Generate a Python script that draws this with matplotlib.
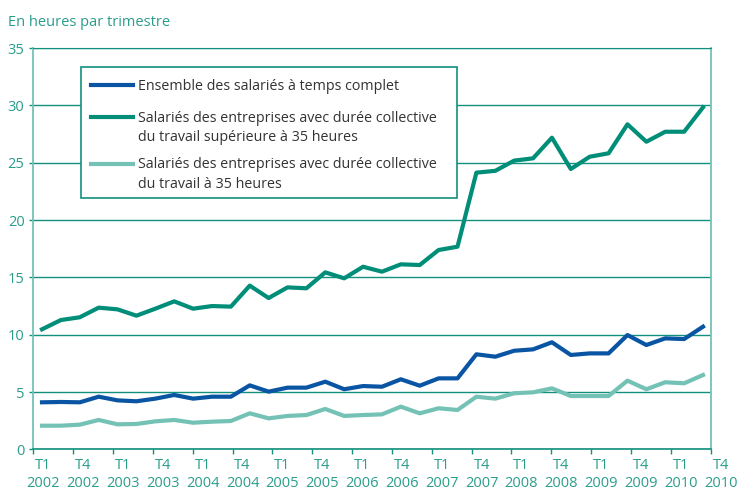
import numpy as np
import matplotlib
matplotlib.use("Agg")
import matplotlib.pyplot as plt
from matplotlib.lines import Line2D
from matplotlib.patches import Rectangle

plt.rcParams.update({"font.family": ["Open Sans", "DejaVu Sans"], "font.size": 10})

# quarterly values, T1 2002 .. T4 2010
ensemble = [4.10, 4.13, 4.10, 4.59, 4.27, 4.19, 4.42, 4.74, 4.42, 4.59, 4.59, 5.58,
            5.03, 5.38, 5.38, 5.90, 5.24, 5.52, 5.46, 6.11, 5.55, 6.19, 6.19, 8.29,
            8.08, 8.60, 8.72, 9.34, 8.23, 8.37, 8.37, 9.97, 9.10, 9.68, 9.62, 10.70]
sup35 = [10.47, 11.28, 11.52, 12.36, 12.21, 11.66, 12.27, 12.91, 12.27, 12.50, 12.45, 14.28,
         13.20, 14.13, 14.05, 15.44, 14.92, 15.93, 15.50, 16.14, 16.08, 17.39, 17.68, 24.14,
         24.30, 25.19, 25.39, 27.19, 24.46, 25.53, 25.83, 28.36, 26.84, 27.71, 27.71, 29.84]
eq35 = [2.06, 2.06, 2.15, 2.56, 2.18, 2.21, 2.44, 2.56, 2.32, 2.41, 2.47, 3.14,
        2.70, 2.91, 2.99, 3.52, 2.91, 2.99, 3.05, 3.72, 3.14, 3.58, 3.43, 4.59,
        4.42, 4.89, 4.97, 5.32, 4.65, 4.65, 4.65, 5.99, 5.24, 5.85, 5.76, 6.48]
tick_labels = ["T1\n2002", "T4\n2002", "T1\n2003", "T4\n2003", "T1\n2004", "T4\n2004",
               "T1\n2005", "T4\n2005", "T1\n2006", "T4\n2006", "T1\n2007", "T4\n2007",
               "T1\n2008", "T4\n2008", "T1\n2009", "T4\n2009", "T1\n2010", "T4\n2010"]
series_names = ["Ensemble des salariés à temps complet",
                "Salariés des entreprises avec durée collective\ndu travail supérieure à 35 heures",
                "Salariés des entreprises avec durée collective\ndu travail à 35 heures"]

BLUE, GREEN, LIGHT = "#0a55a3", "#008e78", "#74c2b5"
TEAL, TXT = "#12907e", "#2a9d8b"

W, H = 738, 490
fig = plt.figure(figsize=(W / 100, H / 100), dpi=100)
ax = fig.add_axes([33.3 / W, 1 - 449.3 / H, (710.7 - 33.3) / W, (449.3 - 48.2) / H])

x = np.arange(len(ensemble))
colors = [BLUE, GREEN, LIGHT]
for vals, c in zip([ensemble, sup35, eq35], colors):
    ax.plot(x, vals, color=c, lw=3.0, zorder=3)

xlo, xhi = -0.461, 35.407
ax.set_xlim(xlo, xhi)
ax.set_ylim(0, 35)
ax.set_yticks(range(0, 36, 5))
ax.yaxis.grid(True, color=TEAL, lw=1.0)
ax.set_axisbelow(True)

step = (xhi - xlo) / 17
ax.set_xticks([xlo + k * step for k in range(18)])
ax.set_xticklabels([])
for k, lab in enumerate(tick_labels):
    ax.text(xlo + k * step + 0.53, -0.022, lab, transform=ax.get_xaxis_transform(),
            ha="center", va="top", color=TXT, fontsize=10.5, linespacing=1.3, clip_on=False)

ax.tick_params(axis="x", length=3.5, width=1, color=TEAL)
ax.tick_params(axis="y", length=3, width=1, color=TEAL, labelcolor=TXT, labelsize=10.5, pad=3.3)
for s in ["left", "right"]:
    ax.spines[s].set_color(LIGHT)
    ax.spines[s].set_linewidth(1.3)
ax.spines["bottom"].set_color(TEAL)
ax.spines["top"].set_color(TEAL)
ax.spines["bottom"].set_linewidth(1.2)

fig.text(8 / W, 1 - 26 / H, "En heures par trimestre", color=TXT, fontsize=10.5, va="baseline")

# legend drawn by hand so the handle sits on the first text line
def fpx(px, py):
    return px / W, 1 - py / H

x0, y0 = fpx(80.7, 66.7)
x1, y1 = fpx(456.7, 198.3)
fig.patches.append(Rectangle((x0, y1), x1 - x0, y0 - y1, transform=fig.transFigure,
                             facecolor="white", edgecolor=TEAL, lw=1.2, zorder=5))
for name, c, ly in zip(series_names, colors, [85.3, 117.3, 164.0]):
    a, b = fpx(90.7, ly)
    a2, _ = fpx(132.7, ly)
    fig.lines.append(Line2D([a, a2], [b, b], transform=fig.transFigure, color=c, lw=3.0, zorder=6))
    tx, ty = fpx(138.3, ly - 6.5)
    fig.text(tx, ty, name, color="#333333", fontsize=10.3, va="top", linespacing=1.38,
             zorder=7)

fig.savefig("out.png", dpi=100)
